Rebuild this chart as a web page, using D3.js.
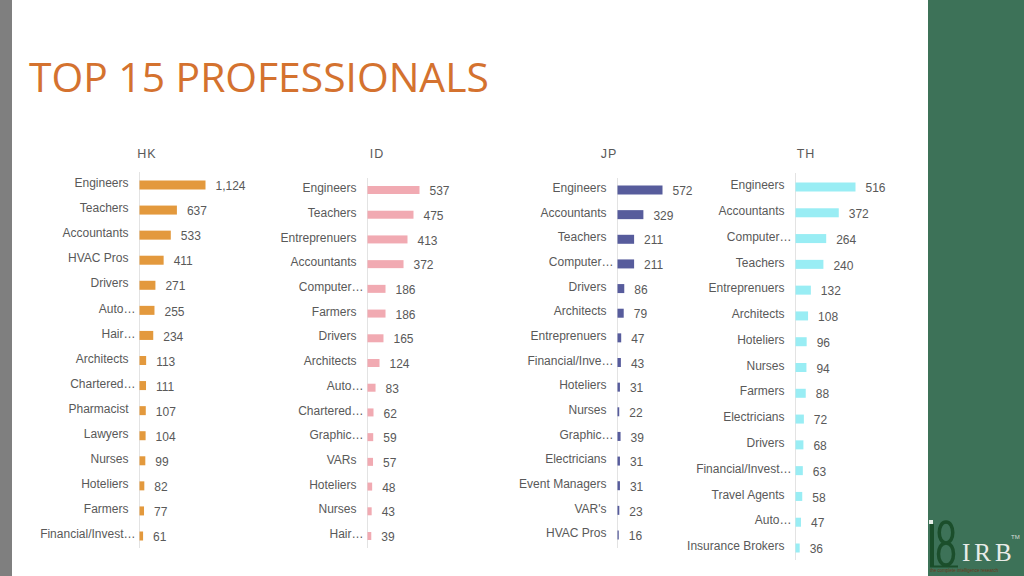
<!DOCTYPE html>
<html>
<head>
<meta charset="utf-8">
<script src="https://cdn.jsdelivr.net/npm/d3@7"></script>
<style>
  html, body { margin: 0; padding: 0; background: #ffffff; }
  svg { display: block; }
</style>
</head>
<body>
<svg id="chart" width="1024" height="576"></svg>
<script>
// ---------- DATA ----------
const hkCategories = ["Engineers","Teachers","Accountants","HVAC Pros","Drivers","Auto…","Hair…","Architects","Chartered…","Pharmacist","Lawyers","Nurses","Hoteliers","Farmers","Financial/Invest…"];
const hkValues     = [1124, 637, 533, 411, 271, 255, 234, 113, 111, 107, 104, 99, 82, 77, 61];

const idCategories = ["Engineers","Teachers","Entreprenuers","Accountants","Computer…","Farmers","Drivers","Architects","Auto…","Chartered…","Graphic…","VARs","Hoteliers","Nurses","Hair…"];
const idValues     = [537, 475, 413, 372, 186, 186, 165, 124, 83, 62, 59, 57, 48, 43, 39];

const jpCategories = ["Engineers","Accountants","Teachers","Computer…","Drivers","Architects","Entreprenuers","Financial/Inve…","Hoteliers","Nurses","Graphic…","Electricians","Event Managers","VAR's","HVAC Pros"];
const jpValues     = [572, 329, 211, 211, 86, 79, 47, 43, 31, 22, 39, 31, 31, 23, 16];

const thCategories = ["Engineers","Accountants","Computer…","Teachers","Entreprenuers","Architects","Hoteliers","Nurses","Farmers","Electricians","Drivers","Financial/Invest…","Travel Agents","Auto…","Insurance Brokers"];
const thValues     = [516, 372, 264, 240, 132, 108, 96, 94, 88, 72, 68, 63, 58, 47, 36];

const panelNames = ["HK","ID","JP","TH"];
const chartTitle = "TOP 15 PROFESSIONALS";

// ---------- LAYOUT / STYLE ----------
const panels = [
  { name: panelNames[0], cats: hkCategories, vals: hkValues, color: "#e3993d", axisX: 139.5, barMax: 66, y0: 185, y1: 536, axisTop: 172, axisBot: 548, titleX: 147, barH: 9 },
  { name: panelNames[1], cats: idCategories, vals: idValues, color: "#f1aab2", axisX: 367.5, barMax: 52, y0: 190, y1: 536, axisTop: 178, axisBot: 548, titleX: 377, barH: 8 },
  { name: panelNames[2], cats: jpCategories, vals: jpValues, color: "#575c9c", axisX: 617.5, barMax: 45, y0: 190, y1: 535, axisTop: 178, axisBot: 548, titleX: 609, barH: 9 },
  { name: panelNames[3], cats: thCategories, vals: thValues, color: "#99edf4", axisX: 795.5, barMax: 60, y0: 187, y1: 548, axisTop: 173, axisBot: 560, titleX: 806, barH: 9 }
];

const svg = d3.select("#chart");
const textColor = "#595959";
const font = "'Liberation Sans', Arial, sans-serif";

// background pieces
svg.append("rect").attr("x", 0).attr("y", 0).attr("width", 12).attr("height", 576).attr("fill", "#7f7f7f");
svg.append("rect").attr("x", 928).attr("y", 0).attr("width", 96).attr("height", 576).attr("fill", "#3d7258");

// title
svg.append("text")
  .attr("x", 29).attr("y", 92)
  .attr("font-family", "'Open Sans', 'Noto Sans', sans-serif")
  .attr("font-size", 40.8)
  .attr("fill", "#d4722f")
  .text(chartTitle);

const fmt = d3.format(",");

panels.forEach(p => {
  const g = svg.append("g");
  const x = d3.scaleLinear().domain([0, d3.max(p.vals)]).range([0, p.barMax]);
  const y = d3.scalePoint().domain(p.cats).range([p.y0, p.y1]);
  const rows = p.cats.map((c, i) => ({ cat: c, val: p.vals[i] }));

  // panel title
  g.append("text")
    .attr("x", p.titleX).attr("y", 158)
    .attr("text-anchor", "middle")
    .attr("font-family", font).attr("font-size", 12.5)
    .attr("letter-spacing", 1)
    .attr("fill", textColor)
    .text(p.name);

  // axis line
  g.append("line")
    .attr("x1", p.axisX).attr("x2", p.axisX)
    .attr("y1", p.axisTop).attr("y2", p.axisBot)
    .attr("stroke", "#e3e3e3").attr("stroke-width", 1);

  // bars
  g.selectAll("rect.bar").data(rows).join("rect")
    .attr("class", "bar")
    .attr("x", p.axisX)
    .attr("y", d => y(d.cat) - p.barH / 2)
    .attr("width", d => x(d.val))
    .attr("height", p.barH)
    .attr("fill", p.color);

  // category labels
  g.selectAll("text.cat").data(rows).join("text")
    .attr("class", "cat")
    .attr("x", d => p.axisX - (d.cat.endsWith("…") ? 4 : 11))
    .attr("y", d => y(d.cat) - 2)
    .attr("dy", "0.35em")
    .attr("text-anchor", "end")
    .attr("font-family", font).attr("font-size", 12)
    .attr("fill", textColor)
    .text(d => d.cat);

  // value labels
  g.selectAll("text.val").data(rows).join("text")
    .attr("class", "val")
    .attr("x", d => p.axisX + x(d.val) + 10)
    .attr("y", d => y(d.cat) + 1)
    .attr("dy", "0.35em")
    .attr("font-family", font).attr("font-size", 12)
    .attr("fill", textColor)
    .text(d => fmt(d.val));
});

// IRB logo (bottom right)
const logo = svg.append("g");
logo.append("rect").attr("x", 930).attr("y", 524).attr("width", 4).attr("height", 43).attr("fill", "#1b4e2b");
logo.append("path")
  .attr("d", "M946,543 C937,543 937,522 946,522 C955,522 955,543 946,543 C936,543 936,565 946,565 C956,565 956,543 946,543 Z")
  .attr("fill", "none").attr("stroke", "#1b4e2b").attr("stroke-width", 3.5);
logo.append("line").attr("x1", 930).attr("x2", 958).attr("y1", 566.5).attr("y2", 566.5)
  .attr("stroke", "#1b4e2b").attr("stroke-width", 2);
logo.append("rect").attr("x", 929).attr("y", 520).attr("width", 4).attr("height", 4).attr("fill", "#e8efe9");
logo.append("text")
  .attr("x", 962).attr("y", 561)
  .attr("font-family", "'Liberation Serif', 'DejaVu Serif', serif")
  .attr("font-size", 25).attr("letter-spacing", 4)
  .attr("fill", "#e9ece8")
  .text("IRB");
logo.append("text")
  .attr("x", 1011).attr("y", 539)
  .attr("font-family", font).attr("font-size", 6)
  .attr("fill", "#d9ded9")
  .text("TM");
logo.append("text")
  .attr("x", 930).attr("y", 572)
  .attr("font-family", font).attr("font-size", 4.5)
  .attr("fill", "#6a3a1e")
  .text("the complete intelligence research");
</script>
</body>
</html>
